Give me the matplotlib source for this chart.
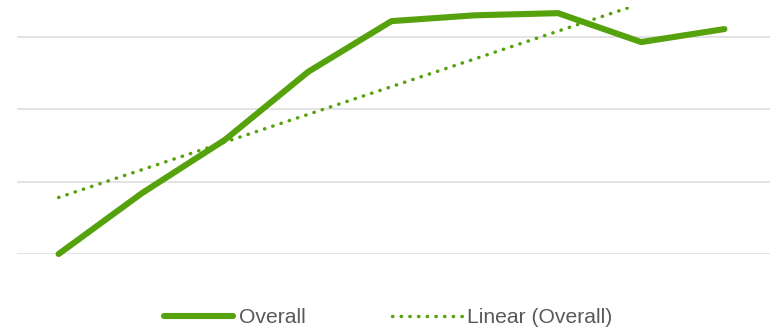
import numpy as np
import matplotlib
matplotlib.use("Agg")
import matplotlib.pyplot as plt

# data
periods = list(range(9))
overall = [0.0, 0.84, 1.58, 2.52, 3.22, 3.30, 3.33, 2.93, 3.11]

green = "#56a20c"

fig = plt.figure(figsize=(7.7, 3.29), dpi=100)
ax = fig.add_axes([17 / 770, (329 - 254) / 329, (770 - 17) / 770, (254 - 7) / 329])

# linear trendline (like Excel's "Linear" option)
slope, intercept = np.polyfit(periods, overall, 1)
trend = [intercept + slope * p for p in periods]

ax.plot(periods, overall, color=green, lw=4.4, solid_capstyle="round",
        solid_joinstyle="round", clip_on=False, label="Overall", zorder=3)
ax.plot(periods, trend, color=green, lw=2.5, linestyle=(0, (0.1, 2.4)),
        dash_capstyle="round", label="Linear (Overall)", zorder=2)

ax.set_xlim(-0.5, 8.548)
ax.set_ylim(0, 3.415)
ax.set_yticks([0, 1, 2, 3])
ax.grid(axis="y", color="#dedede", lw=1.2)
ax.set_axisbelow(True)
ax.tick_params(left=False, bottom=False, labelleft=False, labelbottom=False)
for s in ax.spines.values():
    s.set_visible(False)

leg = fig.legend(loc="center", bbox_to_anchor=(388 / 770, 1 - 317.5 / 329), ncol=2,
                 frameon=False, fontsize=15.2, handlelength=3.3, handletextpad=0.25,
                 columnspacing=4.1)
for t in leg.get_texts():
    t.set_color("#595959")
    t.set_family(["Liberation Sans", "DejaVu Sans"])

plt.savefig("out.png", dpi=100)
